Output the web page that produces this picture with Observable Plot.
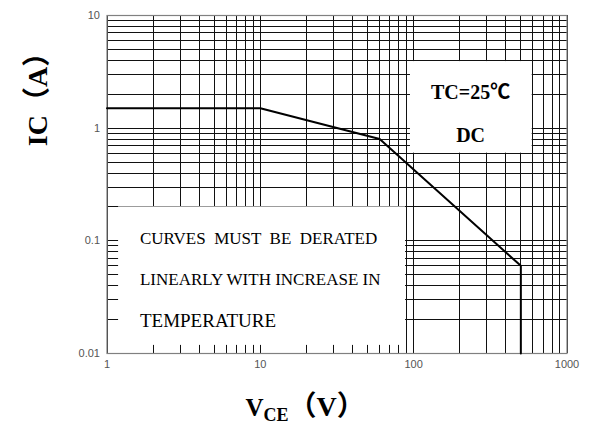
<!DOCTYPE html>
<html><head><meta charset="utf-8">
<script src="https://cdn.jsdelivr.net/npm/d3@7"></script>
<script src="https://cdn.jsdelivr.net/npm/@observablehq/plot@0.6"></script>
<style>
body{margin:0;background:#fff}
svg text{white-space:pre}
</style>
</head><body><div id="chart"></div>
<script>
// Safe operating area curve
const vce = [1, 10, 60, 500, 500];
const ic = [1.5, 1.5, 0.8, 0.06, 0.01];
// axis ticks and grid
const xTicks = [1, 10, 100, 1000];
const yTicks = [0.01, 0.1, 1, 10];
const xGrid = [1,2,3,4,5,6,7,8,9,10,20,30,40,50,60,70,80,90,100,200,300,400,500,600,700,800,900,1000];
const yGrid = [0.01,0.02,0.03,0.04,0.05,0.06,0.07,0.08,0.09,0.1,0.2,0.3,0.4,0.5,0.6,0.7,0.8,0.9,1,2,3,4,5,6,7,8,9,10];
// annotations
const noteLines = ["CURVES  MUST  BE  DERATED", "LINEARLY WITH INCREASE IN", "TEMPERATURE"];
const noteY = [0.105, 0.0454, 0.0194];
const noteSize = [17, 17, 19];
const condLines = ["TC=25\u2103", "DC"];
const condY = [2.07, 0.867];
const boxX1 = [1.19, 95.3];
const boxX2 = [88.5, 593];
const boxY1 = [0.0118, 0.6];
const boxY2 = [0.2, 3.9];

const curve = vce.map((v, i) => ({v, i: ic[i]}));
const boxes = boxX1.map((x1, k) => ({x1, x2: boxX2[k], y1: boxY1[k], y2: boxY2[k]}));
const notes = noteLines.map((t, k) => ({t, y: noteY[k], s: noteSize[k]}));
const conds = condLines.map((t, k) => ({t, y: condY[k]}));

const serif = "Liberation Serif, 'Noto Sans CJK SC', serif";

const svg = Plot.plot({
  width: 595,
  height: 430,
  marginLeft: 106.5,
  marginRight: 28.5,
  marginTop: 15,
  marginBottom: 77,
  style: {fontFamily: "Liberation Sans, Arial, sans-serif", fontSize: "11px", background: "#fff"},
  x: {type: "log", domain: [1, 1000]},
  y: {type: "log", domain: [0.01, 10]},
  marks: [
    Plot.ruleX(xGrid, {x: d => d, stroke: "#111", strokeWidth: 1, shapeRendering: "crispEdges"}),
    Plot.ruleY(yGrid, {y: d => d, stroke: "#111", strokeWidth: 1, shapeRendering: "crispEdges"}),
    Plot.rect(boxes, {x1: "x1", x2: "x2", y1: "y1", y2: "y2", fill: "#fff"}),
    Plot.frame({stroke: "#808080", strokeWidth: 1.2}),
    Plot.line(curve, {x: "v", y: "i", stroke: "#000", strokeWidth: 2}),
    Plot.axisX({ticks: xTicks, tickSize: 0, tickPadding: 7, tickFormat: d => String(d), fill: "#555", label: null}),
    Plot.axisY({ticks: yTicks, tickSize: 0, tickPadding: 7, tickFormat: d => String(d), fill: "#555", label: null}),
    Plot.text(notes, {x: () => 1.64, y: "y", text: "t", fontSize: "s", textAnchor: "start", fontFamily: serif, fill: "#000"}),
    Plot.text(conds, {x: () => 235, y: "y", text: "t", fontSize: 20, fontWeight: "bold", fontFamily: serif, fill: "#000"}),
    Plot.text(["IC（A）"], {frameAnchor: "top-left", textAnchor: "middle", dx: -79.5, dy: 77, rotate: -90, fontSize: 28, fontWeight: "bold", fontFamily: serif, fill: "#000"}),
    Plot.text(["VCE（V）"], {frameAnchor: "bottom-left", dx: 138.5, dy: 62, textAnchor: "start", fontSize: 25, fontWeight: "bold", fontFamily: serif, fill: "#000"})
  ]
});

d3.select(svg).selectAll("text").filter(function() { return this.textContent === "VCE（V）"; })
  .each(function() {
    const t = d3.select(this);
    t.text(null);
    t.append("tspan").text("V");
    t.append("tspan").attr("font-size", 18).attr("dy", 5.5).text("CE");
    t.append("tspan").attr("font-size", 28).attr("dy", -5.5).text("（V）");
  });

document.getElementById("chart").appendChild(svg);
</script>
</body></html>
